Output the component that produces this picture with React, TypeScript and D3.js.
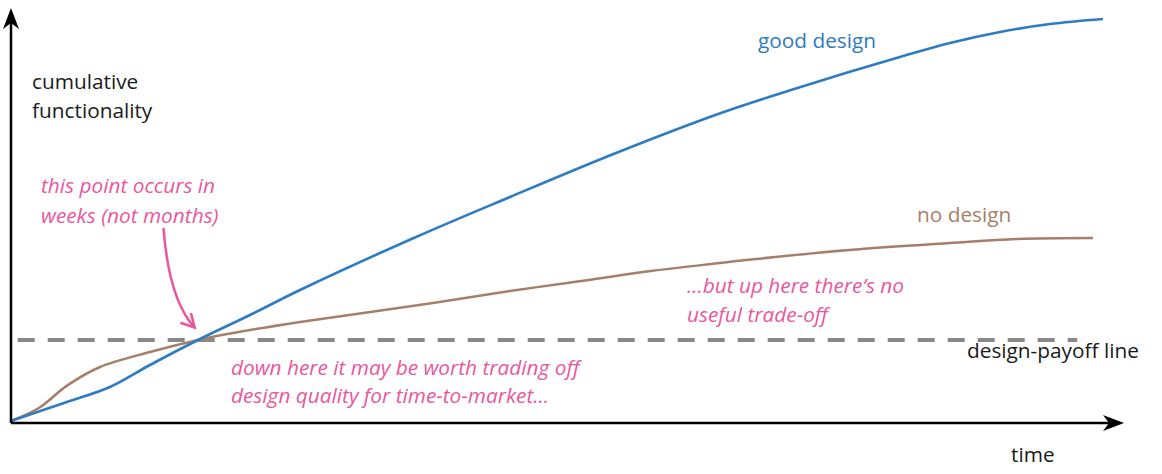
import React from "react";
import * as d3 from "d3";

// time (0-100) vs cumulative functionality (0-100)
const goodTime = [0, 5.03, 8.89, 12.49, 16.8, 21.47, 25.97, 36.39, 44.83, 54.36, 63.79, 70.08, 75.29, 79.87, 84.37, 88.86, 93.35, 98.11];
const goodFunc = [0.5, 5.06, 8.67, 13.98, 20.0, 26.02, 32.05, 44.82, 54.46, 65.06, 74.7, 80.24, 84.58, 88.19, 91.57, 94.22, 96.14, 97.35];

const noTime = [0, 2.5, 5.03, 8.0, 12.49, 16.8, 19.95, 25.97, 37.92, 44.83, 49.96, 57.5, 63.7, 66.94, 75.29, 84.37, 90.39, 97.21];
const noFunc = [0.5, 3.6, 9.0, 13.5, 17.11, 20.0, 21.69, 24.34, 28.92, 31.81, 33.73, 36.63, 38.55, 39.52, 41.69, 43.37, 44.34, 44.58];

const payoffLevel = 20;
const payoffStart = 0.6;
const payoffEnd = 95.8;

// arrow annotation (data units): start, control, tip
const arrowPts: [number, number][] = [[13.7, 47.0], [14.2, 29.6], [16.5, 23.0]];

const W = 1162, H = 474;
const x = d3.scaleLinear().domain([0, 100]).range([11, 1124]);
const y = d3.scaleLinear().domain([0, 100]).range([423, 8]);

const BLUE = "#2e7bc1";
const BROWN = "#a67f69";
const PINK = "#e9579c";
const GRAY = "#888888";
const INK = "#1a1a1a";
const FONT = "'Open Sans', 'Noto Sans', sans-serif";

export default function App() {
  const line = d3
    .line<[number, number]>()
    .x((d) => x(d[0]))
    .y((d) => y(d[1]))
    .curve(d3.curveCatmullRom.alpha(0.5));

  const good = line(goodTime.map((t, i) => [t, goodFunc[i]] as [number, number])) || "";
  const none = line(noTime.map((t, i) => [t, noFunc[i]] as [number, number])) || "";

  const [a0, a1, a2] = arrowPts.map(([t, f]) => [x(t), y(f)]);
  const arrowPath = `M${a0[0]},${a0[1]} Q${a1[0]},${a1[1]} ${a2[0]},${a2[1]}`;
  const ang = Math.atan2(a2[1] - a1[1], a2[0] - a1[0]);
  const hl = 15, hw = 0.5;
  const h1 = [a2[0] - hl * Math.cos(ang - hw), a2[1] - hl * Math.sin(ang - hw)];
  const h2 = [a2[0] - hl * Math.cos(ang + hw), a2[1] - hl * Math.sin(ang + hw)];

  const x0 = x(0), y0 = y(0), xEnd = x(100), yTop = y(100);

  const textStyle = { fontFamily: FONT, fontSize: 20.8 } as const;
  const pinkStyle = { fontFamily: FONT, fontSize: 20.8, fontStyle: "italic" } as const;

  return (
    <svg width={W} height={H} style={{ position: "absolute", left: 0, top: 0, background: "#fff" }}>
      <rect width={W} height={H} fill="#fff" />
      <line
        x1={x(payoffStart)}
        x2={x(payoffEnd)}
        y1={y(payoffLevel)}
        y2={y(payoffLevel)}
        stroke={GRAY}
        strokeWidth={4}
        strokeDasharray="17 13"
      />
      <path d={none} fill="none" stroke={BROWN} strokeWidth={2.5} />
      <path d={good} fill="none" stroke={BLUE} strokeWidth={2.6} />

      <line x1={x0} y1={y0} x2={xEnd - 8} y2={y0} stroke="#000" strokeWidth={2.5} />
      <line x1={x0} y1={y0} x2={x0} y2={yTop + 8} stroke="#000" strokeWidth={2.5} />
      <path
        d={`M${xEnd},${y0} L${xEnd - 21},${y0 - 8} L${xEnd - 15},${y0} L${xEnd - 21},${y0 + 8} Z`}
        fill="#000"
      />
      <path
        d={`M${x0},${yTop} L${x0 - 8},${yTop + 21} L${x0},${yTop + 15} L${x0 + 8},${yTop + 21} Z`}
        fill="#000"
      />

      <path d={arrowPath} fill="none" stroke={PINK} strokeWidth={2.5} />
      <path
        d={`M${h1[0]},${h1[1]} L${a2[0]},${a2[1]} L${h2[0]},${h2[1]}`}
        fill="none"
        stroke={PINK}
        strokeWidth={2.6}
        strokeLinejoin="miter"
      />

      <text x={32} y={89} fill={INK} style={textStyle}>cumulative</text>
      <text x={32} y={118} fill={INK} style={textStyle}>functionality</text>
      <text x={1011} y={462} fill={INK} style={textStyle}>time</text>
      <text x={967} y={358} fill={INK} style={textStyle}>design-payoff line</text>
      <text x={758} y={48} fill={BLUE} style={textStyle}>good design</text>
      <text x={917} y={222} fill={BROWN} style={textStyle}>no design</text>

      <text x={41} y={193} fill={PINK} style={pinkStyle}>this point occurs in</text>
      <text x={41} y={223} fill={PINK} style={pinkStyle}>weeks (not months)</text>
      <text x={231} y={375} fill={PINK} style={pinkStyle}>down here it may be worth trading off</text>
      <text x={231} y={403} fill={PINK} style={pinkStyle}>design quality for time-to-market...</text>
      <text x={687} y={293} fill={PINK} style={pinkStyle}>...but up here there’s no</text>
      <text x={687} y={322} fill={PINK} style={pinkStyle}>useful trade-off</text>
    </svg>
  );
}
